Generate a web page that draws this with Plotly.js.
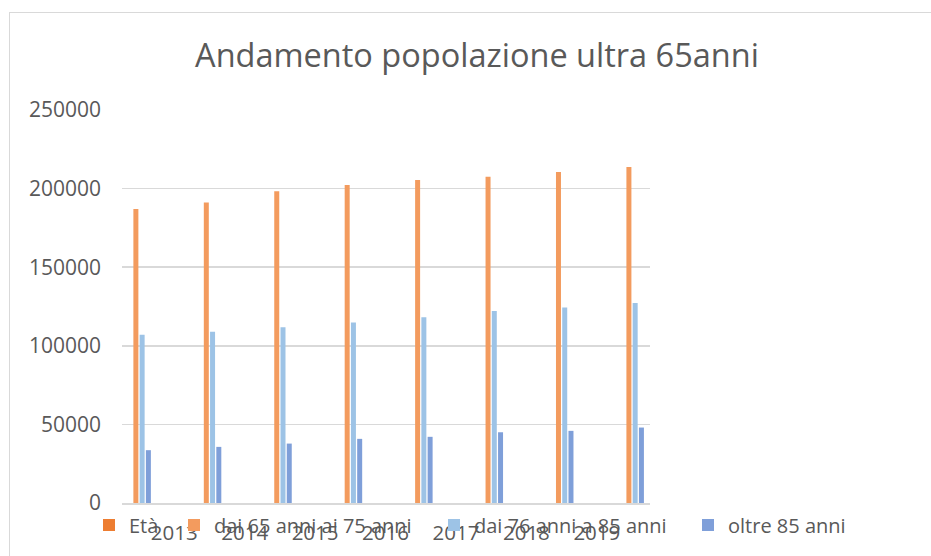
<!DOCTYPE html>
<html>
<head>
<meta charset="utf-8">
<script src="https://cdn.plot.ly/plotly-3.0.1.min.js"></script>
<style>
  html, body { margin: 0; padding: 0; background: #fff; overflow: hidden; }
  #chart { position: absolute; left: 0; top: 0; width: 931px; height: 556px; }
  #frame { position: absolute; left: 9px; top: 12px; width: 940px; height: 560px;
           border: 1.5px solid #d9d9d9; pointer-events: none; }
</style>
</head>
<body>
<div id="chart"></div>
<div id="frame"></div>
<script>
// ---- data ----
const groupIndex = [0, 1, 2, 3, 4, 5, 6, 7];
const xTickLabels = ['2013', '2014', '2015', '2016', '2017', '2018', '2019'];
const seriesNames = ['Età', 'dai 65 anni ai 75 anni', 'dai 76 anni a 85 anni', 'oltre 85 anni'];
const eta      = [null, null, null, null, null, null, null, null];
const da65a75  = [187100, 191100, 198300, 202300, 205500, 207600, 210600, 213700];
const da76a85  = [107000, 108900, 111800, 114800, 118200, 122200, 124300, 127300];
const oltre85  = [33600, 35700, 37800, 40800, 42100, 45000, 45900, 48000];

const colors = ['#ED7D31', '#F39B5E', '#9DC3E6', '#7F9FD9'];
const values = [eta, da65a75, da76a85, oltre85];
const legendIds = ['legend', 'legend2', 'legend3', 'legend4'];

const traces = values.map((v, i) => ({
  type: 'bar',
  name: seriesNames[i],
  x: groupIndex,
  y: v,
  marker: { color: colors[i], line: { width: 0 } },
  legend: legendIds[i],
  hoverinfo: 'skip'
}));

const plotL = 122, plotR = 650, plotT = 110, plotB = 503;
const pw = plotR - plotL, ph = plotB - plotT;
const legTextX = [131, 216, 476, 730];
const legY = 525;
const legFont = { family: 'Open Sans', size: 20, color: '#595959' };

const layout = {
  width: 931, height: 556,
  margin: { l: plotL, r: 931 - plotR, t: plotT, b: 556 - plotB, pad: 0 },
  paper_bgcolor: '#ffffff',
  plot_bgcolor: '#ffffff',
  font: { family: 'Open Sans', color: '#595959' },
  title: {
    text: 'Andamento popolazione ultra 65anni',
    font: { family: 'Open Sans', size: 32.5, color: '#595959' },
    xref: 'container', x: 477 / 931, xanchor: 'center',
    yref: 'container', y: 1 - 56 / 556, yanchor: 'middle'
  },
  barmode: 'group',
  bargap: 0.645,
  bargroupgap: 0.2,
  xaxis: {
    type: 'linear',
    range: [-0.2414, 7.255],
    tickvals: xTickLabels.map((_, i) => i + 0.5),
    ticktext: xTickLabels,
    ticks: '',
    ticklabelstandoff: 11,
    showgrid: false,
    zeroline: false,
    showline: true, linecolor: '#d9d9d9', linewidth: 1.5,
    tickfont: { family: 'Open Sans', size: 20.5, color: '#595959' },
    fixedrange: true
  },
  yaxis: {
    range: [0, 250000],
    tickvals: [0, 50000, 100000, 150000, 200000, 250000],
    ticktext: ['0', '50000', '100000', '150000', '200000', '250000'],
    ticks: '',
    ticklabelstandoff: 20,
    showgrid: true, gridcolor: '#d9d9d9', gridwidth: 1.5,
    zeroline: false,
    showline: false,
    tickfont: { family: 'Open Sans', size: 21, color: '#595959' },
    fixedrange: true
  },
  showlegend: true
};

legendIds.forEach((id, i) => {
  layout[id] = {
    x: (legTextX[i] - 42 - plotL) / pw,
    xanchor: 'left',
    y: (plotB - legY) / ph,
    yanchor: 'middle',
    orientation: 'h',
    bgcolor: 'rgba(0,0,0,0)',
    borderwidth: 0,
    font: legFont,
    itemwidth: 30
  };
});

Plotly.newPlot('chart', traces, layout, { staticPlot: true, displayModeBar: false });
</script>
</body>
</html>
